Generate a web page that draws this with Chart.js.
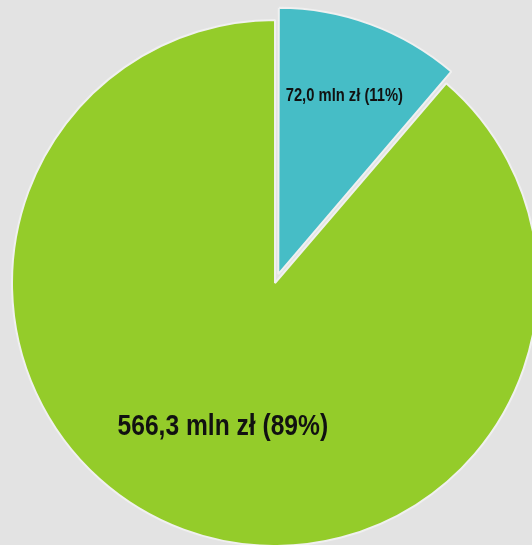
<!DOCTYPE html>
<html>
<head>
<meta charset="utf-8">
<script src="https://cdn.jsdelivr.net/npm/chart.js@4"></script>
<style>
  html, body { margin: 0; padding: 0; background: #e3e3e3; overflow: hidden; }
  #wrap { position: relative; width: 532px; height: 545px; }
</style>
</head>
<body>
<div id="wrap"><canvas id="pie"></canvas></div>
<script>
// ---- DATA ----
const categories = ['Segment A', 'Segment B'];
const values = [72.0, 566.3];          // mln zł
const colors = ['#46bdc6', '#94cc2a'];

// ---- LABELS ----
const total = values.reduce((s, v) => s + v, 0);
const labelText = v =>
  `${v.toFixed(1).replace('.', ',')} mln zł (${Math.round(v / total * 100)}%)`;

// where each label sits: angle (deg, clockwise from top; null = middle of slice), fraction of radius, font size
const labelPlace = [
  { angle: null, frac: 0.76, size: 18 },
  { angle: 200, frac: 0.58, size: 30 }
];
const NARROW = 0.82; // no narrow font installed, squeeze Liberation Sans instead

const sliceLabels = {
  id: 'sliceLabels',
  afterDatasetsDraw(chart) {
    const { ctx } = chart;
    const arcs = chart.getDatasetMeta(0).data;
    arcs.forEach((arc, i) => {
      const p = labelPlace[i];
      const a = p.angle === null
        ? (arc.startAngle + arc.endAngle) / 2
        : (p.angle - 90) * Math.PI / 180;
      const r = arc.outerRadius * p.frac;
      ctx.save();
      ctx.translate(arc.x + Math.cos(a) * r, arc.y + Math.sin(a) * r);
      ctx.scale(NARROW, 1);
      ctx.fillStyle = '#111';
      ctx.textAlign = 'center';
      ctx.textBaseline = 'middle';
      ctx.font = `bold ${p.size}px "Liberation Sans", Arial, sans-serif`;
      ctx.fillText(labelText(values[i]), 0, 0);
      ctx.restore();
    });
  }
};

new Chart(document.getElementById('pie'), {
  type: 'pie',
  data: {
    labels: categories,
    datasets: [{
      data: values,
      backgroundColor: colors,
      borderColor: '#f0f0f0',
      borderWidth: 2,
      offset: [38, 0],
      hoverOffset: 0
    }]
  },
  options: {
    responsive: true,
    maintainAspectRatio: false,
    animation: false,
    radius: 263,
    layout: { padding: { left: 18, top: 21, right: 0, bottom: 0 } },
    plugins: {
      legend: { display: false },
      tooltip: { enabled: false }
    }
  },
  plugins: [sliceLabels]
});
</script>
</body>
</html>
